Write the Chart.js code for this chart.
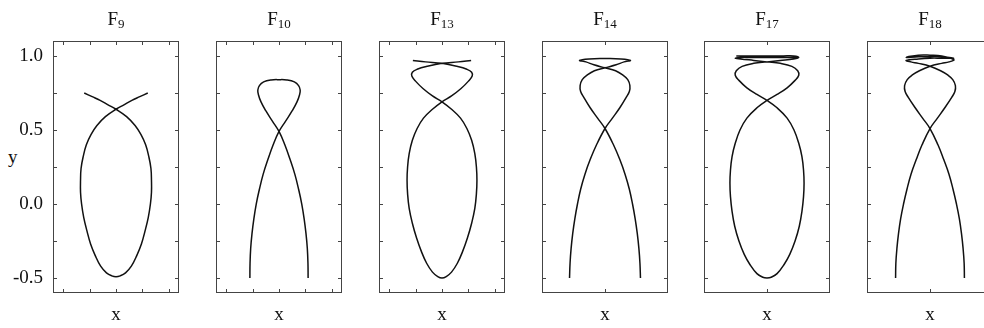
<!DOCTYPE html>
<html>
<head>
<meta charset="utf-8">
<script src="https://cdn.jsdelivr.net/npm/chart.js@4.4.1/dist/chart.umd.min.js"></script>
<style>
  html, body { margin: 0; padding: 0; background: #fff; overflow: hidden; }
  body { width: 984px; height: 328px; position: relative; font-family: "Liberation Serif", serif; color: #111; }
  canvas { position: absolute; top: 0; }
  .ttl { position: absolute; top: 8px; width: 126px; text-align: center; font-size: 19px; line-height: 22px; }
  .ttl sub { font-size: 13px; vertical-align: baseline; position: relative; top: 3px; }
  .ylab { position: absolute; left: 8px; top: 146px; font-size: 19px; line-height: 22px; }
</style>
</head>
<body>
<div class="ylab">y</div>
<script>
// panel names (subscripts of F)
const panelNames = ['9', '10', '13', '14', '17', '18'];

// y axis ticks
const yTickMarks = [-0.5, -0.25, 0, 0.25, 0.5, 0.75, 1.0];
const yTickLabels = [-0.5, 0, 0.5, 1.0];

// curves, in traversal order
const f9X = [-0.60,-0.45,-0.30,-0.15,0, 0.20,0.36,0.47,0.56,0.62,0.66,0.67,0.67,0.65,0.61,0.55,0.48,0.39,0.29,0.18,0.08,0, -0.08,-0.18,-0.29,-0.39,-0.48,-0.55,-0.61,-0.65,-0.67,-0.67,-0.66,-0.62,-0.56,-0.47,-0.36,-0.20,0, 0.15,0.30,0.45,0.60];
const f9Y = [0.75,0.725,0.70,0.67,0.64, 0.59,0.53,0.47,0.40,0.32,0.24,0.16,0.08,0.00,-0.09,-0.18,-0.27,-0.35,-0.42,-0.465,-0.485,-0.491, -0.485,-0.465,-0.42,-0.35,-0.27,-0.18,-0.09,0.00,0.08,0.16,0.24,0.32,0.40,0.47,0.53,0.59,0.64, 0.67,0.70,0.725,0.75];

const f10X = [-0.55,-0.547,-0.535,-0.51,-0.475,-0.43,-0.37,-0.30,-0.21,-0.11,0, 0.125,0.25,0.34,0.39,0.40,0.37,0.29,0.15,0, -0.15,-0.29,-0.37,-0.40,-0.39,-0.34,-0.25,-0.125,0, 0.11,0.21,0.30,0.37,0.43,0.475,0.51,0.535,0.547,0.55];
const f10Y = [-0.50,-0.40,-0.30,-0.20,-0.10,0,0.10,0.20,0.30,0.40,0.49, 0.56,0.63,0.69,0.74,0.77,0.80,0.825,0.838,0.84, 0.838,0.825,0.80,0.77,0.74,0.69,0.63,0.56,0.49, 0.40,0.30,0.20,0.10,0,-0.10,-0.20,-0.30,-0.40,-0.50];

const f13X = [-0.55,-0.31,0, 0.28,0.47,0.56,0.57,0.50,0.36,0.18,0, -0.18,-0.35,-0.47,-0.56,-0.62,-0.65,-0.66,-0.65,-0.62,-0.56,-0.48,-0.39,-0.29,-0.18,-0.08,0, 0.08,0.18,0.29,0.39,0.48,0.56,0.62,0.65,0.66,0.65,0.62,0.56,0.47,0.35,0.18,0, -0.18,-0.36,-0.50,-0.57,-0.56,-0.47,-0.28,0, 0.31,0.55];
const f13Y = [0.97,0.96,0.95, 0.93,0.91,0.89,0.865,0.83,0.78,0.73,0.69, 0.64,0.58,0.51,0.43,0.34,0.25,0.16,0.07,-0.03,-0.13,-0.23,-0.32,-0.40,-0.46,-0.49,-0.50, -0.49,-0.46,-0.40,-0.32,-0.23,-0.13,-0.03,0.07,0.16,0.25,0.34,0.43,0.51,0.58,0.64,0.69, 0.73,0.78,0.83,0.865,0.89,0.91,0.93,0.95, 0.96,0.97];

const f14X = [-0.67,-0.66,-0.64,-0.61,-0.57,-0.52,-0.46,-0.38,-0.28,-0.16,0, 0.14,0.28,0.40,0.46,0.47,0.43,0.34,0.20,0, -0.21,-0.36,-0.48, -0.30,0,0.30,0.48, 0.36,0.21,0, -0.20,-0.34,-0.43,-0.47,-0.46,-0.40,-0.28,-0.14,0, 0.16,0.28,0.38,0.46,0.52,0.57,0.61,0.64,0.66,0.67];
const f14Y = [-0.50,-0.40,-0.30,-0.20,-0.10,0,0.10,0.20,0.30,0.40,0.51, 0.58,0.65,0.72,0.76,0.80,0.84,0.87,0.90,0.92, 0.94,0.96,0.97, 0.98,0.982,0.98,0.97, 0.96,0.94,0.92, 0.90,0.87,0.84,0.80,0.76,0.72,0.65,0.58,0.51, 0.40,0.30,0.20,0.10,0,-0.10,-0.20,-0.30,-0.40,-0.50];

const f17X = [0.57,0.31,0,-0.31,-0.50,-0.60,-0.50,-0.25,0, 0.25,0.47,0.58,0.60,0.53,0.38,0.19,0, -0.19,-0.38,-0.51,-0.60,-0.66,-0.69,-0.70,-0.69,-0.66,-0.61,-0.53,-0.43,-0.32,-0.19,-0.08,0, 0.08,0.19,0.32,0.43,0.53,0.61,0.66,0.69,0.70,0.69,0.66,0.60,0.51,0.38,0.19,0, -0.19,-0.38,-0.53,-0.60,-0.58,-0.47,-0.25,0, 0.25,0.50,0.60, 0.50,0.31,0,-0.31,-0.58];
const f17Y = [0.99,0.99,0.99,0.99,0.99,0.985,0.98,0.97,0.96, 0.95,0.93,0.90,0.87,0.835,0.785,0.74,0.70, 0.65,0.58,0.50,0.41,0.32,0.23,0.14,0.05,-0.05,-0.15,-0.25,-0.34,-0.41,-0.47,-0.495,-0.50, -0.495,-0.47,-0.41,-0.34,-0.25,-0.15,-0.05,0.05,0.14,0.23,0.32,0.41,0.50,0.58,0.65,0.70, 0.74,0.785,0.835,0.87,0.90,0.93,0.95,0.96, 0.97,0.98,0.99, 1.0,1.0,1.0,1.0,1.0];

const f18X = [-0.65,-0.645,-0.625,-0.595,-0.555,-0.50,-0.435,-0.36,-0.26,-0.15,0, 0.14,0.28,0.41,0.47,0.48,0.43,0.34,0.20,0, -0.22,-0.36,-0.45, -0.22,0,0.22,0.45, 0.22,0,-0.22,-0.45, -0.22,0,0.22,0.45, 0.36,0.22,0, -0.20,-0.34,-0.43,-0.48,-0.47,-0.41,-0.28,-0.14,0, 0.15,0.26,0.36,0.435,0.50,0.555,0.595,0.625,0.645,0.65];
const f18Y = [-0.50,-0.40,-0.30,-0.20,-0.10,0,0.10,0.20,0.30,0.40,0.51, 0.58,0.65,0.72,0.76,0.80,0.84,0.87,0.90,0.93, 0.95,0.96,0.97, 0.98,0.985,0.985,0.985, 0.995,0.995,0.995,0.99, 1.005,1.005,1.0,0.975, 0.96,0.95,0.93, 0.90,0.87,0.84,0.80,0.76,0.72,0.65,0.58,0.51, 0.40,0.30,0.20,0.10,0,-0.10,-0.20,-0.30,-0.40,-0.50];

const curvesX = [f9X, f10X, f13X, f14X, f17X, f18X];
const curvesY = [f9Y, f10Y, f13Y, f14Y, f17Y, f18Y];

// x tick marks shown on each panel
const xTickMarks = [[-1, -0.5, 0, 0.5, 1], [-1, -0.5, 0, 0.5, 1], [-1, -0.5, 0, 0.5, 1], [0], [0], [0]];

// layout
const boxLeft = [53, 216, 379, 542, 704, 867];
const boxW = 126;
const padR = 8;
const serif = 'Liberation Serif';

Chart.defaults.font.family = serif;

// frame with small inward ticks
const framePlugin = {
  id: 'frame',
  afterDatasetsDraw(chart, args, opts) {
    const { ctx, chartArea: a, scales: { x, y } } = chart;
    ctx.save();
    ctx.strokeStyle = '#444';
    ctx.lineWidth = 1;
    ctx.strokeRect(a.left + 0.5, a.top + 0.5, a.width - 1, a.height - 1);
    ctx.beginPath();
    yTickMarks.forEach(v => {
      const p = Math.round(y.getPixelForValue(v)) + 0.5;
      ctx.moveTo(a.left, p); ctx.lineTo(a.left + 4, p);
      ctx.moveTo(a.right, p); ctx.lineTo(a.right - 4, p);
    });
    opts.xt.forEach(v => {
      const p = Math.round(x.getPixelForValue(v)) + 0.5;
      ctx.moveTo(p, a.top); ctx.lineTo(p, a.top + 4);
      ctx.moveTo(p, a.bottom); ctx.lineTo(p, a.bottom - 4);
    });
    ctx.stroke();
    ctx.restore();
  }
};

panelNames.forEach((name, i) => {
  const first = i === 0;
  const padL = first ? 53 : 8;
  const cv = document.createElement('canvas');
  cv.width = padL + boxW + padR;
  cv.height = 328;
  cv.style.left = (boxLeft[i] - padL) + 'px';
  document.body.appendChild(cv);

  const t = document.createElement('div');
  t.className = 'ttl';
  t.style.left = boxLeft[i] + 'px';
  t.innerHTML = 'F<sub>' + name + '</sub>';
  document.body.appendChild(t);

  const pts = curvesX[i].map((v, k) => ({ x: v, y: curvesY[i][k] }));

  new Chart(cv, {
    type: 'scatter',
    data: {
      datasets: [{
        data: pts,
        showLine: true,
        pointRadius: 0,
        borderColor: '#111',
        borderWidth: 1.5,
        tension: 0.4,
        fill: false
      }]
    },
    options: {
      responsive: false,
      animation: false,
      events: [],
      layout: { padding: { top: 41, left: first ? 0 : padL, right: padR, bottom: 0 } },
      plugins: {
        legend: { display: false },
        tooltip: { enabled: false },
        frame: { xt: xTickMarks[i] }
      },
      scales: {
        x: {
          type: 'linear',
          min: -1.19,
          max: 1.19,
          grid: { display: false, drawTicks: false },
          border: { display: false },
          ticks: { display: false },
          title: { display: true, text: 'x', color: '#111', font: { family: serif, size: 19 }, padding: { top: 0, bottom: 2 } },
          afterFit: s => { s.height = 35; }
        },
        y: {
          type: 'linear',
          min: -0.601,
          max: 1.101,
          display: first,
          grid: { display: false, drawTicks: false },
          border: { display: false },
          afterBuildTicks: s => { s.ticks = yTickLabels.map(v => ({ value: v })); },
          ticks: { color: '#111', font: { family: serif, size: 19 }, padding: 10, callback: v => v.toFixed(1) },
          afterFit: s => { s.width = first ? 53 : 0; }
        }
      }
    },
    plugins: [framePlugin]
  });
});
</script>
</body>
</html>
